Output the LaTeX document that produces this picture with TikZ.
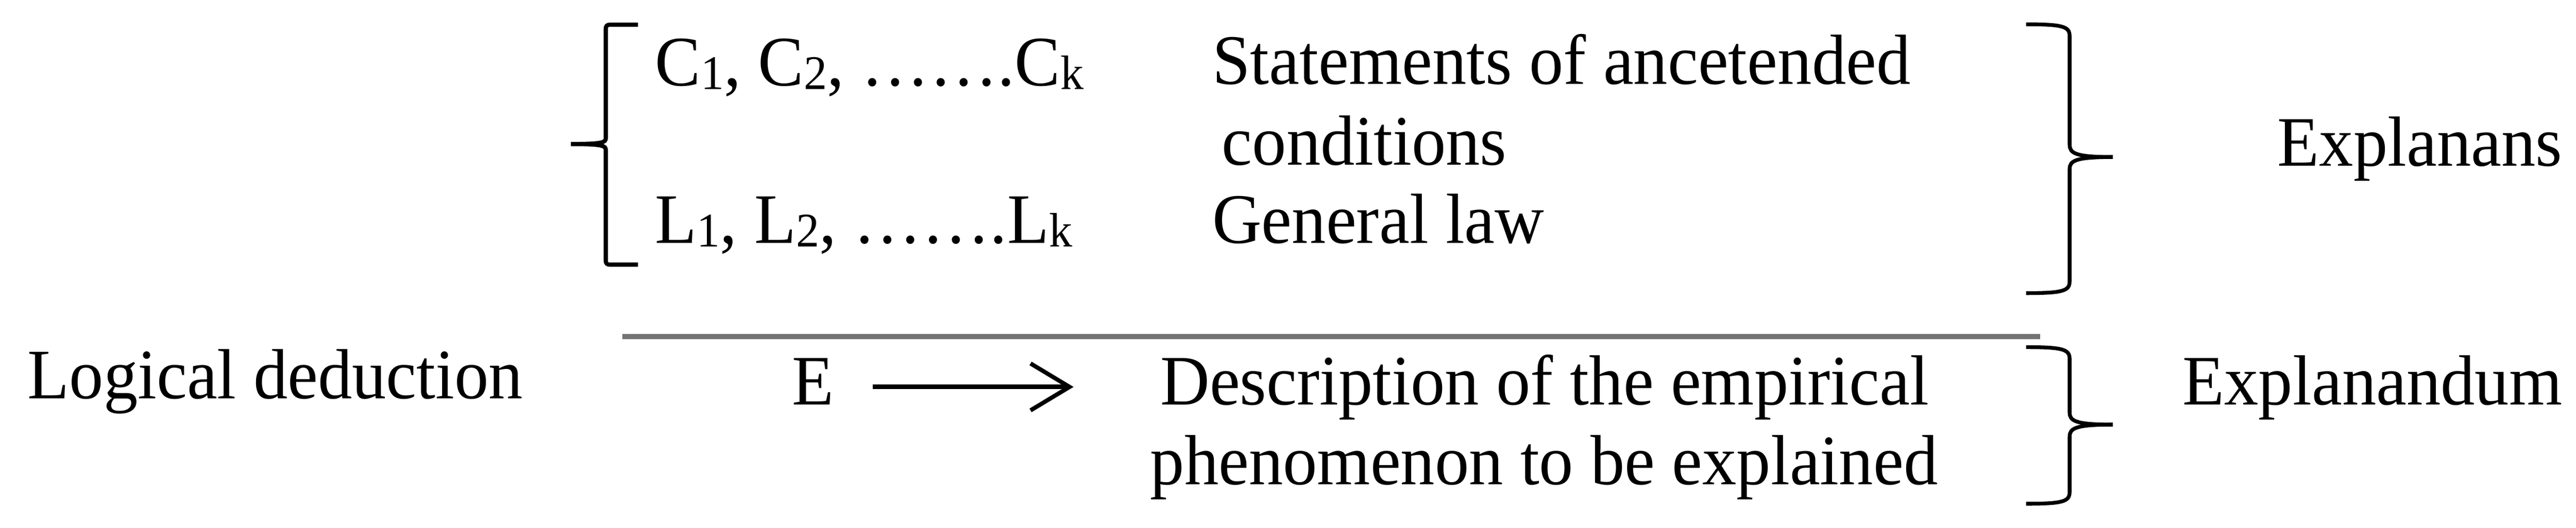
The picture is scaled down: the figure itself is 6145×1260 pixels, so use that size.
\documentclass[tikz,border=0pt]{standalone}
\usepackage{graphicx}
\usepackage{fontspec}
\setmainfont{Liberation Serif}
\usetikzlibrary{arrows.meta}
\newcommand\sbs[1]{\raisebox{-0.8pt}{\fontsize{11.1pt}{11.1pt}\selectfont #1}}
\newcommand\tx[1]{\scalebox{1}[1.04]{#1}}
\begin{document}
\begin{tikzpicture}[x=0.1pt,y=-0.1pt,
  txt/.style={inner sep=0pt, outer sep=0pt, font=\fontsize{16.3pt}{19pt}\selectfont},
  bracel/.style={line width=1pt, line cap=butt, line join=miter},
  bracer/.style={line width=0.9pt, line cap=butt, line join=miter},
  rulel/.style={line width=1.2pt, draw=black!55},
  arr/.style={line width=1.1pt, -{Straight Barb[length=9.3pt,width=11.2pt,line width=1pt]}}]
\useasboundingbox (0,0) rectangle (6145,1260);
% texts
\node[txt, anchor=base west] (c)   at (1563,205)  {\tx{C\sbs{1}, C\sbs{2}, …….C\sbs{k}}};
\node[txt, anchor=base west] (l)   at (1563,581)  {\tx{L\sbs{1}, L\sbs{2}, …….L\sbs{k}}};
\node[txt, anchor=base west] (s1)  at (2892,201)  {\tx{Statements of ancetended}};
\node[txt, anchor=base west] (s2)  at (2915,394)  {\tx{conditions}};
\node[txt, anchor=base west] (g)   at (2892,581)  {\tx{General law}};
\node[txt, anchor=base east] (ex1) at (6112,396)  {\tx{Explanans}};
\node[txt, anchor=base east] (ex2) at (6112,967)  {\tx{Explanandum}};
\node[txt, anchor=base west] (ld)  at (66,952)    {\tx{Logical deduction}};
\node[txt, anchor=base west] (e)   at (1890,966)  {\tx{E}};
\node[txt, anchor=base west] (d1)  at (2768,966)  {\tx{Description of the empirical}};
\node[txt, anchor=base west] (d2)  at (2744,1157) {\tx{phenomenon to be explained}};
% rule
\coordinate (r1) at (1484,804);
\coordinate (r2) at (4867,804);
\draw[rulel] (r1) -- (r2);
% arrow
\coordinate (a1) at (2082,924);
\coordinate (a2) at (2561,924);
\draw[arr] (a1) -- (a2);
% left brace
\draw[bracel] (1522,59) -- (1455,59) .. controls (1448,59) and (1445,62) .. (1445,69)
  -- (1445,330) .. controls (1445,340) and (1438,344) .. (1362,344);
\draw[bracel] (1362,344) .. controls (1438,344) and (1445,348) .. (1445,358)
  -- (1445,622) .. controls (1445,629) and (1448,632) .. (1455,632) -- (1522,632);
% right brace 1
\draw[bracer] (4833,58) .. controls (4920,58) and (4937,63) .. (4937,86)
  -- (4937,345) .. controls (4937,366) and (4950,375) .. (5040,375);
\draw[bracer] (5040,375) .. controls (4950,375) and (4937,384) .. (4937,404)
  -- (4937,672) .. controls (4937,695) and (4920,700) .. (4833,700);
% right brace 2
\draw[bracer] (4833,829) .. controls (4920,829) and (4937,834) .. (4937,857)
  -- (4937,985) .. controls (4937,1005) and (4950,1014) .. (5040,1014);
\draw[bracer] (5040,1014) .. controls (4950,1014) and (4937,1023) .. (4937,1043)
  -- (4937,1175) .. controls (4937,1198) and (4920,1203) .. (4833,1203);
\end{tikzpicture}
\end{document}
